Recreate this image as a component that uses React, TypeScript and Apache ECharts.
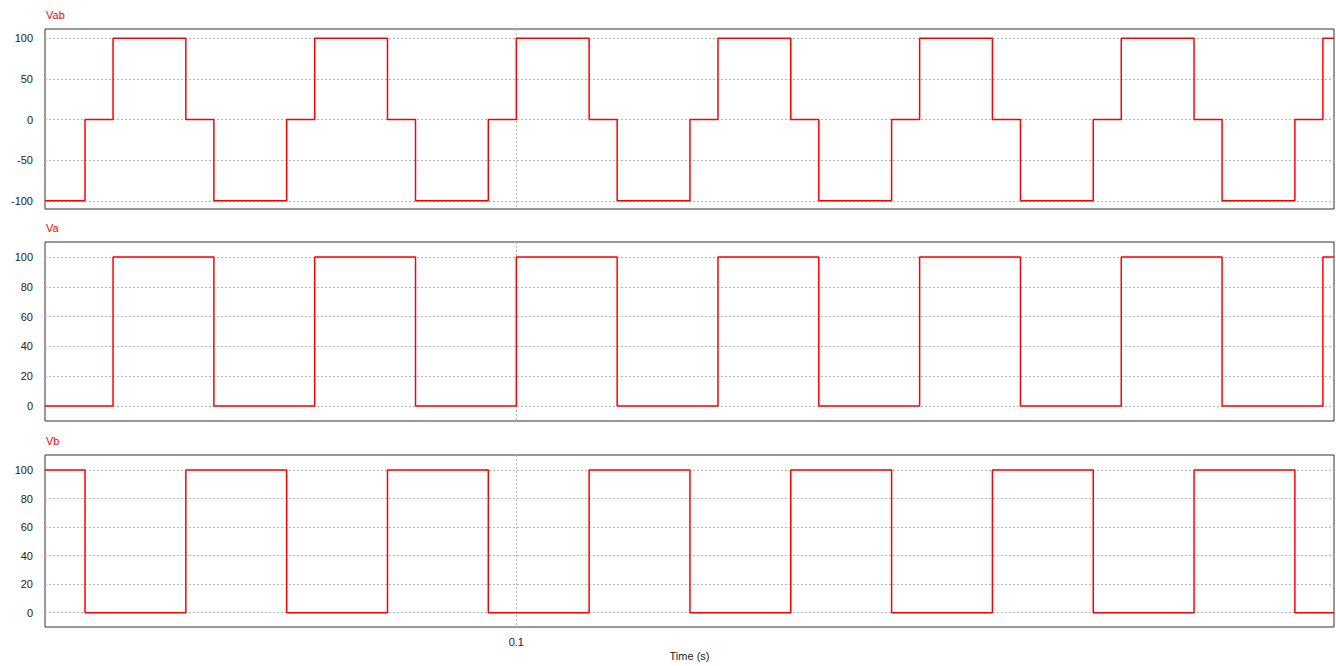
import React, { useEffect, useRef } from "react";
import * as echarts from "echarts";

// Time range of the plot (s)
const timeMin = 0.05325;
const timeMax = 0.1811;

// Vab: step transitions (time in s, value after the transition)
const vabTimes = [
  0.05325, 0.05722, 0.06, 0.06722, 0.07, 0.07722, 0.08, 0.08722, 0.09, 0.09722,
  0.1, 0.10722, 0.11, 0.11722, 0.12, 0.12722, 0.13, 0.13722, 0.14, 0.14722,
  0.15, 0.15722, 0.16, 0.16722, 0.17, 0.17722, 0.18, 0.1811,
];
const vabValues = [
  -100, 0, 100, 0, -100, 0, 100, 0, -100, 0,
  100, 0, -100, 0, 100, 0, -100, 0, 100, 0,
  -100, 0, 100, 0, -100, 0, 100, 100,
];

// Va
const vaTimes = [
  0.05325, 0.06, 0.07, 0.08, 0.09, 0.1, 0.11, 0.12, 0.13, 0.14, 0.15, 0.16, 0.17, 0.18, 0.1811,
];
const vaValues = [0, 100, 0, 100, 0, 100, 0, 100, 0, 100, 0, 100, 0, 100, 100];

// Vb
const vbTimes = [
  0.05325, 0.05722, 0.06722, 0.07722, 0.08722, 0.09722, 0.10722, 0.11722, 0.12722,
  0.13722, 0.14722, 0.15722, 0.16722, 0.17722, 0.1811,
];
const vbValues = [100, 0, 100, 0, 100, 0, 100, 0, 100, 0, 100, 0, 100, 0, 0];

// Tick labels
const vabTicks = [-100, -50, 0, 50, 100];
const vTicks = [0, 20, 40, 60, 80, 100];
const timeTicks = [0.1];

const titles = ["Vab", "Va", "Vb"];

const FONT = "Liberation Sans, Arial, Helvetica, sans-serif";

export default function App() {
  const ref = useRef<HTMLDivElement>(null);

  useEffect(() => {
    if (!ref.current) return;
    const chart = echarts.init(ref.current, undefined, { renderer: "svg" });

    const pair = (t: number[], v: number[]) => t.map((x, i) => [x, v[i]]);

    const grids = [
      { left: 45, top: 29, width: 1289, height: 180 },
      { left: 45, top: 242, width: 1289, height: 179 },
      { left: 45, top: 455, width: 1289, height: 172 },
    ].map((g) => ({ ...g, show: true, borderColor: "#333", borderWidth: 1, backgroundColor: "#fff" }));

    const splitLine = {
      show: true,
      lineStyle: { color: "#b4b4b4", width: 1, type: [2, 2] as any },
    };

    const xAxes = [0, 1, 2].map((i) => ({
      type: "value",
      gridIndex: i,
      min: timeMin,
      max: timeMax,
      axisLine: { show: false },
      axisTick: { show: false, customValues: timeTicks },
      axisLabel: {
        show: i === 2,
        customValues: timeTicks,
        color: "#222",
        fontSize: 11,
        fontFamily: FONT,
        margin: 9,
        formatter: (v: number) => String(Math.round(v * 1000) / 1000),
      },
      splitLine,
      name: i === 2 ? "Time (s)" : "",
      nameLocation: "middle",
      nameGap: 23,
      nameTextStyle: { color: "#222", fontSize: 11, fontFamily: FONT },
    }));

    const yRanges = [
      [-110, 111.5],
      [-10, 110],
      [-10, 110.5],
    ];
    const yTicks = [vabTicks, vTicks, vTicks];

    const yAxes = [0, 1, 2].map((i) => ({
      type: "value",
      gridIndex: i,
      min: yRanges[i][0],
      max: yRanges[i][1],
      axisLine: { show: false },
      axisTick: { show: false, customValues: yTicks[i] },
      axisLabel: {
        customValues: yTicks[i],
        color: "#222",
        fontSize: 11,
        fontFamily: FONT,
        margin: 12,
      },
      splitLine,
    }));

    const datasets = [
      pair(vabTimes, vabValues),
      pair(vaTimes, vaValues),
      pair(vbTimes, vbValues),
    ];

    const series = datasets.map((d, i) => ({
      type: "line",
      name: titles[i],
      xAxisIndex: i,
      yAxisIndex: i,
      data: d,
      step: "end",
      showSymbol: false,
      symbol: "none",
      lineStyle: { color: "#ff0000", width: 1.5 },
      z: 3,
    }));

    const titleTops = [9, 222, 435];

    chart.setOption({
      animation: false,
      backgroundColor: "#fff",
      title: titles.map((t, i) => ({
        text: t,
        left: 46,
        top: titleTops[i],
        padding: 0,
        textStyle: { color: "#ff0000", fontSize: 11, fontWeight: "normal", fontFamily: FONT },
      })),
      grid: grids,
      xAxis: xAxes,
      yAxis: yAxes,
      series,
    });

    return () => chart.dispose();
  }, []);

  return (
    <div
      ref={ref}
      style={{ position: "absolute", left: 0, top: 0, width: 1336, height: 666, background: "#fff" }}
    />
  );
}
